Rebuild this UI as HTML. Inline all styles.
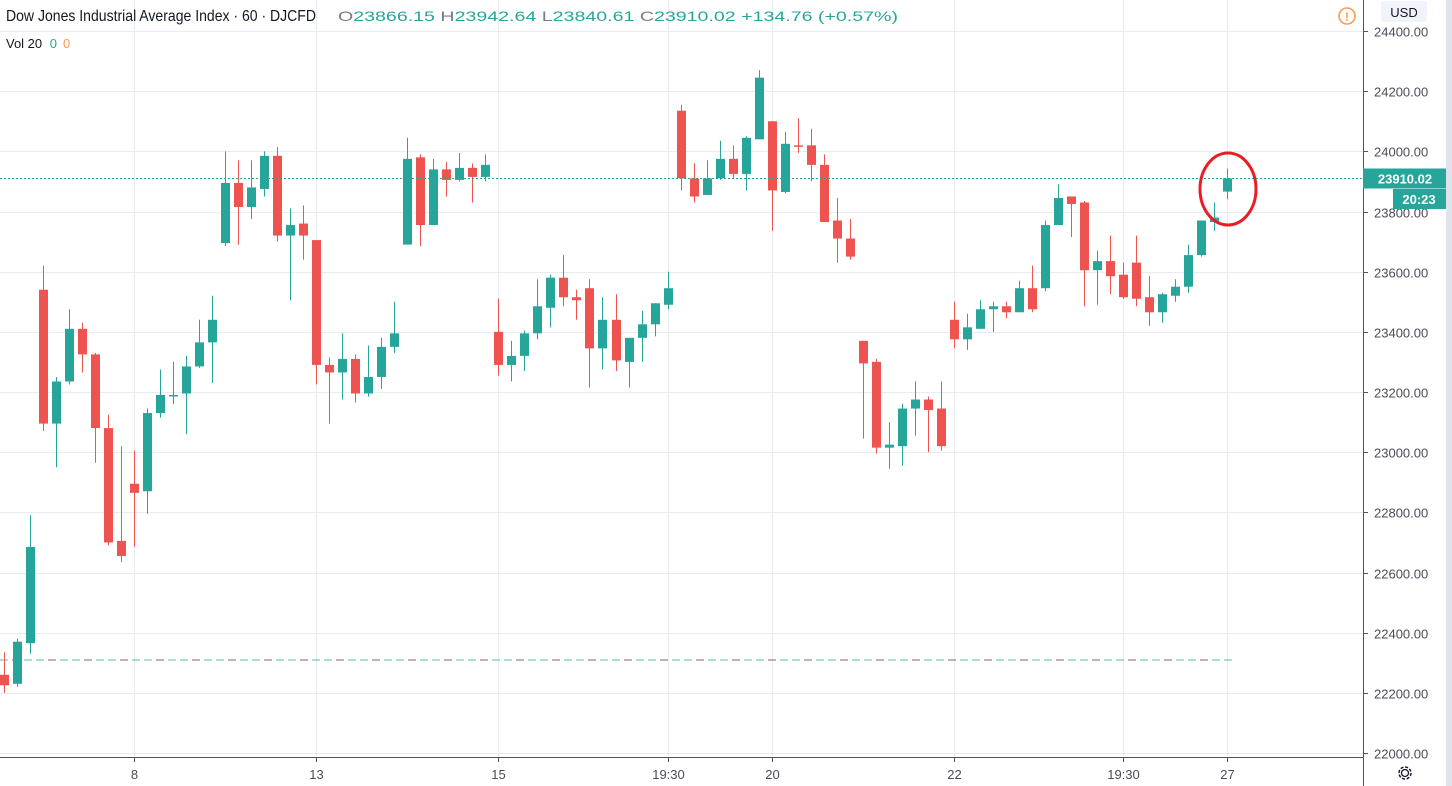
<!DOCTYPE html>
<html><head><meta charset="utf-8"><style>
html,body{margin:0;padding:0;background:#fff;width:1452px;height:786px;overflow:hidden;font-family:"Liberation Sans",sans-serif}
svg{display:block}
</style></head><body>
<svg id="chart" width="1452" height="786" xmlns="http://www.w3.org/2000/svg">
<g id="grid"></g>
<line x1="0" y1="660" x2="1233" y2="660" stroke="#26a69a" stroke-opacity="0.5" stroke-width="1.5" stroke-dasharray="8,4"/>
<line x1="0" y1="660" x2="1233" y2="660" stroke="#ef5350" stroke-opacity="0.45" stroke-width="1.5" stroke-dasharray="8,28" stroke-dashoffset="-12"/>
<g id="candles"></g>
<line id="lastline" x1="0" x2="1363" stroke="#26a69a" stroke-width="1" stroke-dasharray="2,2"/>
<ellipse cx="1228" cy="189" rx="28" ry="36" fill="none" stroke="#ed1c24" stroke-width="3"/>
<rect x="1363" y="0" width="89" height="786" fill="#fff"/>
<rect x="1446" y="0" width="6" height="786" fill="#e0e3eb"/>
<line x1="1363.5" y1="0" x2="1363.5" y2="786" stroke="#50535e" stroke-width="1"/>
<line x1="0" y1="757.5" x2="1363" y2="757.5" stroke="#50535e" stroke-width="1"/>
<g id="yaxis"></g>
<g id="xaxis"></g>
<rect x="1381" y="1" width="46" height="21" rx="3" fill="#f0f3fa"/>
<text x="1404" y="17" text-anchor="middle" font-size="13" fill="#131722">USD</text>
<circle cx="1347" cy="16" r="8" fill="none" stroke="#ff9850" stroke-width="1.6"/>
<text x="1347" y="21" text-anchor="middle" font-size="12" font-weight="bold" fill="#ff9850">!</text>
<rect id="plbox" x="1363" width="83" height="20" fill="#26a69a"/>
<text id="pltext" x="1405" text-anchor="middle" font-size="13" font-weight="bold" fill="#fff">23910.02</text>
<rect x="1393" y="189" width="53" height="20" fill="#26a69a"/>
<text x="1419" y="204" text-anchor="middle" font-size="13" font-weight="bold" fill="#fff">20:23</text>
<g transform="translate(1405,773)">
<circle r="6" fill="none" stroke="#131722" stroke-width="1.5" stroke-dasharray="3,1.7"/>
<circle r="3.5" fill="none" stroke="#131722" stroke-width="1.3"/>
</g>
<text x="6" y="21" font-size="16" fill="#131722" textLength="310" lengthAdjust="spacingAndGlyphs">Dow Jones Industrial Average Index · 60 · DJCFD</text>
<text x="338" y="21" font-size="14" fill="#26a69a" textLength="560" lengthAdjust="spacingAndGlyphs"><tspan fill="#787b86">O</tspan>23866.15 <tspan fill="#787b86">H</tspan>23942.64 <tspan fill="#787b86">L</tspan>23840.61 <tspan fill="#787b86">C</tspan>23910.02 +134.76 (+0.57%)</text>
<text x="6" y="48" font-size="13" fill="#131722">Vol 20 <tspan fill="#26a69a" dx="4">0</tspan><tspan fill="#ff9850" dx="6">0</tspan></text>
</svg>
<script>
const openV=[22260,22230,22365,23540,23095,23235,23410,23325,23080,22705,22895,22870,23130,23185,23195,23285,23365,23695,23895,23815,23875,23985,23720,23760,23705,23290,23265,23310,23195,23250,23350,23690,23980,23755,23940,23905,23945,23915,23400,23290,23320,23395,23480,23580,23515,23545,23345,23440,23300,23380,23425,23490,24135,23910,23855,23910,23975,23925,24040,24100,23865,24020,24020,23955,23770,23710,23370,23300,23015,23020,23145,23175,23145,23440,23375,23410,23475,23485,23465,23545,23545,23755,23850,23830,23605,23635,23590,23630,23515,23465,23520,23550,23655,23765,23866.15];
const highV=[22335,22380,22790,23620,23250,23475,23430,23330,23125,23020,23005,23145,23275,23300,23320,23440,23520,24000,23970,23970,24000,24015,23810,23820,23705,23315,23395,23325,23355,23380,23500,24045,23990,23975,23965,23995,23960,23990,23510,23370,23405,23575,23590,23655,23540,23575,23515,23525,23380,23470,23495,23600,24155,23960,23970,24035,24020,24050,24270,24100,24065,24110,24075,23990,23845,23775,23370,23310,23100,23160,23235,23185,23235,23500,23460,23505,23500,23500,23570,23620,23770,23890,23850,23835,23670,23720,23630,23720,23585,23530,23575,23690,23770,23830,23942.64];
const lowV=[22200,22220,22330,23070,22950,23225,23265,22965,22690,22635,22685,22795,23115,23160,23060,23280,23230,23685,23690,23775,23850,23700,23505,23640,23225,23095,23175,23165,23185,23210,23330,23690,23685,23755,23850,23900,23830,23900,23255,23235,23270,23375,23415,23485,23440,23215,23275,23270,23215,23300,23385,23475,23870,23830,23855,23905,23910,23870,24040,23735,23860,23995,23900,23765,23630,23640,23045,22995,22945,22955,23055,23000,23005,23345,23340,23410,23400,23445,23465,23465,23535,23755,23715,23485,23490,23525,23510,23485,23420,23430,23500,23530,23650,23735,23840.61];
const closeV=[22225,22370,22685,23095,23235,23410,23325,23080,22700,22655,22865,23130,23190,23190,23285,23365,23440,23895,23815,23880,23985,23720,23755,23720,23290,23265,23310,23195,23250,23350,23395,23975,23755,23940,23905,23945,23915,23955,23290,23320,23395,23485,23580,23515,23505,23345,23440,23305,23380,23425,23495,23545,23910,23850,23910,23975,23925,24045,24245,23870,24025,24015,23955,23765,23710,23650,23295,23015,23025,23145,23175,23140,23020,23375,23415,23475,23485,23465,23545,23475,23755,23845,23825,23605,23635,23585,23515,23510,23465,23525,23550,23655,23770,23780,23910.02];
const priceTicks=[24400,24200,24000,23800,23600,23400,23200,23000,22800,22600,22400,22200,22000];
const timeLabels=["8","13","15","19:30","20","22","19:30","27"];
const timeLabelIdx=[10,24,38,51,59,73,86,94];
const lastPrice=23910.02;

const NS="http://www.w3.org/2000/svg";
function yS(v){return 31+(24400-v)*722/2400;}
function xS(i){return 4+i*(1223/94);}
function mk(tag,attrs,parent){const e=document.createElementNS(NS,tag);for(const k in attrs)e.setAttribute(k,attrs[k]);parent.appendChild(e);return e;}
const grid=document.getElementById('grid'),cg=document.getElementById('candles'),ya=document.getElementById('yaxis'),xa=document.getElementById('xaxis');
priceTicks.forEach(v=>{
  const y=Math.round(yS(v))+0.5;
  const gl=mk('line',{x1:0,x2:1363,y1:y,y2:y,stroke:'#e6ecf1','stroke-width':1},grid);
  
  
  const tk=mk('line',{x1:1363,x2:1368,y1:y,y2:y,stroke:'#50535e'},ya);
  
  
  const t=mk('text',{x:1374,y:y+5,'font-size':13,fill:'#4a4d57'},ya);
  t.textContent=v.toFixed(2);
  
  
});
timeLabelIdx.forEach((idx,k)=>{
  const x=Math.round(xS(idx))+0.5;
  const gl=mk('line',{x1:x,x2:x,y1:0,y2:757,stroke:'#e6ecf1','stroke-width':1},grid);
  
  
  const tk=mk('line',{x1:x,x2:x,y1:758,y2:762,stroke:'#50535e'},xa);
  
  
  const t=mk('text',{x:x,y:779,'font-size':13,fill:'#4a4d57','text-anchor':'middle'},xa);
  t.textContent=timeLabels[k];
  
  
});
for(let i=0;i<openV.length;i++){
  const up=closeV[i]>=openV[i];const col=up?'#26a69a':'#ef5350';
  const x=Math.round(xS(i));
  const w=mk('line',{x1:x+0.5,x2:x+0.5,y1:yS(highV[i]),y2:yS(lowV[i]),stroke:col,'stroke-width':1},cg);
  
  
  const top=yS(Math.max(openV[i],closeV[i])),bot=yS(Math.min(openV[i],closeV[i]));
  const b=mk('rect',{x:x-4,y:top,width:9,height:Math.max(1,bot-top),fill:col},cg);
  
  
}
const ly=Math.round(yS(lastPrice))+0.5;
const ll=document.getElementById('lastline');ll.setAttribute('y1',ly);ll.setAttribute('y2',ly);
document.getElementById('plbox').setAttribute('y',ly-10);
document.getElementById('pltext').setAttribute('y',ly+5);
</script>
</body></html>
